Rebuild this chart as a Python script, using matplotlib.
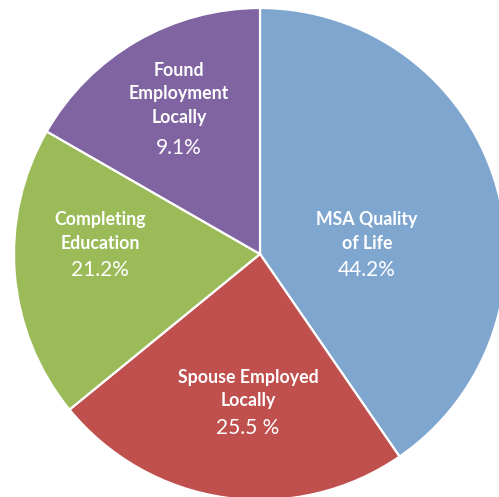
import matplotlib.pyplot as plt

# slice shares as drawn (labels in the chart were typed separately)
categories = ["MSA Quality\nof Life", "Spouse Employed\nLocally",
              "Completing\nEducation", "Found\nEmployment\nLocally"]
shares = [40.4, 23.7, 19.2, 16.7]
pct_labels = ["44.2%", "25.5 %", "21.2%", "9.1%"]
colors = ["#7FA6CF", "#C0504D", "#9BBB59", "#8064A2"]

W, H = 499, 497
fig = plt.figure(figsize=(W / 100, H / 100), dpi=100)
ax = fig.add_axes([0, 0, 1, 1])

cx, cy, r = 260, H - 254, 246
ax.pie(shares, colors=colors, startangle=90, counterclock=False,
       center=(cx, cy), radius=r, frame=True,
       wedgeprops=dict(edgecolor="white", linewidth=1.6))
ax.set_xlim(0, W)
ax.set_ylim(0, H)
ax.set_aspect("equal")
ax.axis("off")

# label placement in image pixels: (x, first line y, percent y)
label_pos = [(367, 220, 270), (248, 377, 428), (100, 220, 270), (179, 70, 148)]
step = 23.5
for name, pct, (x, y0, yp) in zip(categories, pct_labels, label_pos):
    for i, line in enumerate(name.split("\n")):
        ax.text(x, H - (y0 + i * step), line, ha="center", va="center",
                color="white", fontsize=12.8, fontweight="bold", family="Lato")
    ax.text(x, H - yp, pct, ha="center", va="center",
            color="white", fontsize=15, family="Lato")

fig.savefig("out.png", dpi=100)
